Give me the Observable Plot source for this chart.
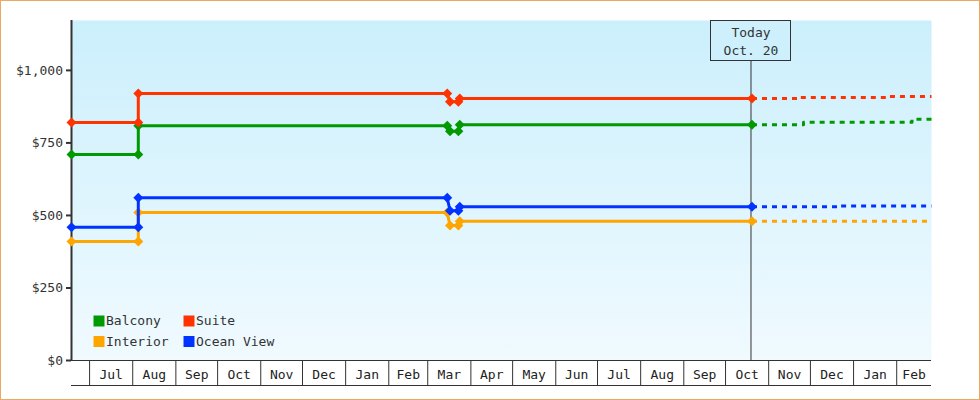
<!DOCTYPE html>
<html><head><meta charset="utf-8">
<script src="https://cdn.jsdelivr.net/npm/d3@7"></script>
<script src="https://cdn.jsdelivr.net/npm/@observablehq/plot@0.6"></script>
<style>
body{margin:0;background:#fff;}
#chart svg{display:block;outline:1px solid #eaa961;outline-offset:-1px;}
</style></head><body><div id="chart"></div>
<script>
// ---- data ----
const seriesNames = ["Balcony", "Interior", "Suite", "Ocean View"];
const seriesColors = ["#009900", "#ffa500", "#ff3300", "#0033ff"];
const legendOrder = ["Balcony", "Suite", "Interior", "Ocean View"];

const priceDates = ["2013-06-18", "2013-08-05", "2013-08-05", "2014-03-15", "2014-03-17", "2014-03-23", "2014-03-24", "2014-10-20"];
const balconyPrices   = [710, 710, 809, 809, 790, 790, 813, 813];
const interiorPrices  = [410, 410, 510, 510, 465, 465, 480, 480];
const suitePrices     = [820, 820, 920, 920, 892, 892, 903, 903];
const oceanViewPrices = [459, 459, 561, 561, 516, 516, 530, 530];

const balconyForecastDates   = ["2014-10-20", "2014-11-26", "2015-02-12", "2015-02-26"];
const balconyForecast        = [813, 821, 832, 832];
const interiorForecastDates  = ["2014-10-20", "2015-02-26"];
const interiorForecast       = [480, 480];
const suiteForecastDates     = ["2014-10-20", "2014-11-23", "2015-01-27", "2015-02-26"];
const suiteForecast          = [903, 907, 910, 910];
const oceanViewForecastDates = ["2014-10-20", "2014-12-22", "2015-02-26"];
const oceanViewForecast      = [530, 533, 533];

const yTicks = [0, 250, 500, 750, 1000];
const xStart = "2013-06-18", xEnd = "2015-02-26";
const todayDate = "2014-10-20";
const todayText = "Today\nOct. 20";

// ---- build tables ----
const parse = d3.utcParse("%Y-%m-%d");
const priceSets = [balconyPrices, interiorPrices, suitePrices, oceanViewPrices];
const fDateSets = [balconyForecastDates, interiorForecastDates, suiteForecastDates, oceanViewForecastDates];
const fSets = [balconyForecast, interiorForecast, suiteForecast, oceanViewForecast];
const colorOf = Object.fromEntries(seriesNames.map((n, i) => [n, seriesColors[i]]));

const x0 = parse(xStart), x1 = parse(xEnd), today = parse(todayDate);
const monthStarts = d3.utcMonths(d3.utcMonth.ceil(x0), d3.utcDay.offset(x1, 1));
const monthMids = monthStarts.map(m => {
  const next = d3.utcMonth.offset(m, 1);
  const end = next < x1 ? next : x1;
  return new Date((+m + +end) / 2);
});

const marks = [
  Plot.frame({fill: "url(#bgGrad)", stroke: null}),
  Plot.ruleY([0], {stroke: "#333"}),
  Plot.ruleY([0], {stroke: "#333", dy: 25}),
  Plot.axisX({ticks: monthStarts, tickSize: 25, tickFormat: () => "", stroke: "#333"}),
  Plot.axisX({ticks: monthMids, tickSize: 0, tickPadding: 9, tickFormat: d3.utcFormat("%b"), fill: "#222"}),
  Plot.axisY({ticks: yTicks, tickFormat: d3.format("$,"), tickSize: 5, tickPadding: 3.5, strokeWidth: 2, stroke: "#333", fill: "#333"}),
  Plot.ruleX([x0], {stroke: "#333", strokeWidth: 2}),
  Plot.ruleX([today], {stroke: "#333", dx: -1})
];

seriesNames.forEach((name, i) => {
  const rows = priceDates.map((d, j) => ({date: parse(d), price: priceSets[i][j]}));
  const frows = fDateSets[i].map((d, j) => ({date: parse(d), price: fSets[i][j]}));
  marks.push(Plot.line(frows, {x: "date", y: "price", curve: "step-after", stroke: seriesColors[i], strokeWidth: 3, strokeDasharray: "5,5", strokeLinecap: "butt"}));
  marks.push(Plot.line(rows, {x: "date", y: "price", stroke: seriesColors[i], strokeWidth: 3, strokeLinecap: "butt", strokeLinejoin: "miter"}));
  marks.push(Plot.dot(rows, {x: "date", y: "price", symbol: "diamond2", r: 4.5, fill: seriesColors[i], stroke: null}));
});

legendOrder.forEach((name, k) => {
  const col = k % 2, row = Math.floor(k / 2);
  marks.push(Plot.dot([name], {frameAnchor: "bottom-left", dx: 27.5 + col * 90, dy: -39.5 + row * 20.5, symbol: "square", r: 6.2, fill: colorOf[name], stroke: null}));
  marks.push(Plot.text([name], {frameAnchor: "bottom-left", text: d => d, dx: 34.5 + col * 90, dy: -39.5 + row * 20.5, textAnchor: "start", lineAnchor: "middle", fill: "#333"}));
});

marks.push(Plot.text([{date: today, label: todayText}], {x: "date", text: "label", frameAnchor: "top", lineAnchor: "top", dx: -1, dy: 4, lineHeight: 1.35, fill: "#333", className: "today-label"}));

const chart = Plot.plot({
  width: 980, height: 400,
  marginLeft: 71, marginRight: 49, marginTop: 20, marginBottom: 40,
  style: {fontFamily: "'DejaVu Sans Mono', monospace", fontSize: "13px", color: "#333", background: "transparent"},
  x: {type: "utc", domain: [x0, x1], label: null},
  y: {domain: [0, 1172], label: null},
  marks
});
document.getElementById("chart").append(chart);

// gradient background + today box
const svg = d3.select(chart);
const defs = svg.insert("defs", ":first-child");
const g = defs.append("linearGradient").attr("id", "bgGrad").attr("x1", 0).attr("y1", 0).attr("x2", 0).attr("y2", 1);
g.append("stop").attr("offset", "0%").attr("stop-color", "#cbeffc");
g.append("stop").attr("offset", "100%").attr("stop-color", "#f0faff");
const cx = Math.round(chart.scale("x").apply(today)) - 1;
svg.insert("rect", ".today-label")
  .attr("x", cx - 40 + 0.5).attr("y", 20.5).attr("width", 80).attr("height", 40)
  .attr("fill", "#cdf0fc").attr("stroke", "#333");
</script></body></html>
